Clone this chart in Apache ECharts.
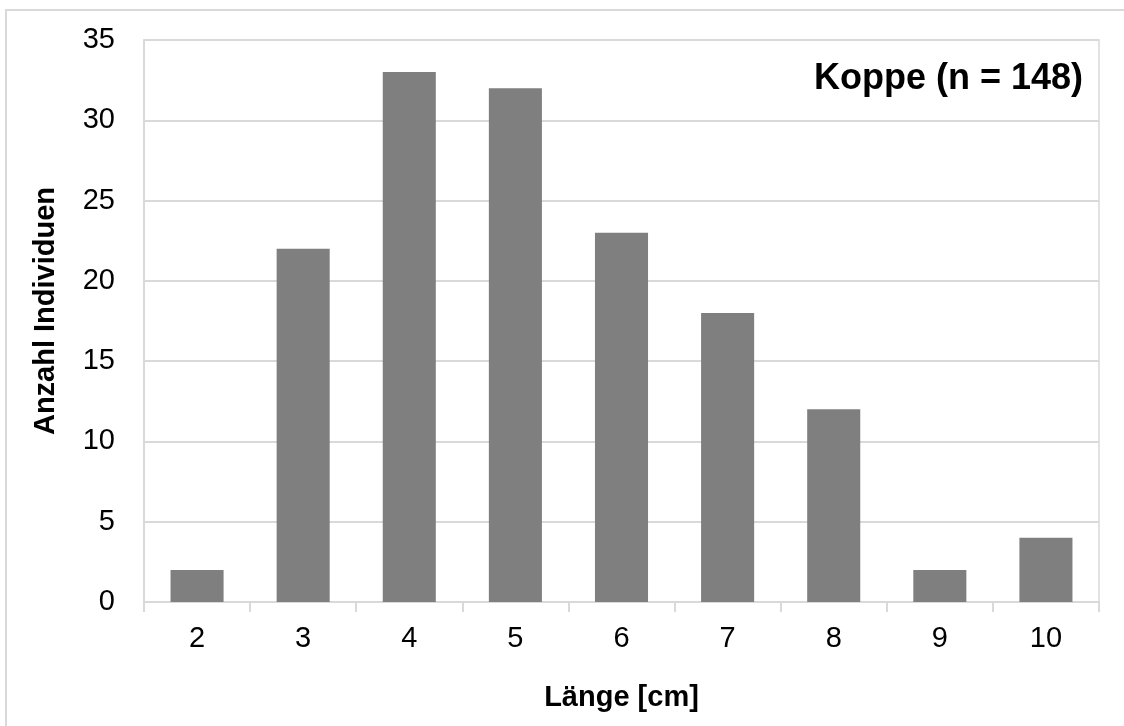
<!DOCTYPE html>
<html>
<head>
<meta charset="utf-8">
<script src="https://cdn.jsdelivr.net/npm/echarts@6/dist/echarts.min.js"></script>
<style>
  html, body { margin: 0; padding: 0; background: #fff; }
  #main { width: 1124px; height: 726px; }
</style>
</head>
<body>
<div id="main"></div>
<script>
// Längenklassen und Anzahl
var laengen = ['2', '3', '4', '5', '6', '7', '8', '9', '10'];
var anzahl = [2, 22, 33, 32, 23, 18, 12, 2, 4];
var titel = 'Koppe (n = 148)';

var myChart = echarts.init(document.getElementById('main'));
var schrift = 'Liberation Sans, Arial, sans-serif';

var option = {
    animation: false,
    backgroundColor: '#fff',
    textStyle: { fontFamily: schrift },
    graphic: [
        {
            // äußerer Rahmen
            type: 'rect',
            shape: { x: 6, y: 10, width: 1130, height: 740 },
            style: { fill: 'none', stroke: '#d9d9d9', lineWidth: 2 }
        },
        {
            type: 'text',
            right: 41,
            top: 61,
            style: {
                text: titel,
                fill: '#000',
                font: 'bold 36px ' + schrift
            }
        }
    ],
    grid: {
        left: 144,
        right: 25,
        top: 40,
        bottom: 124,
        show: true,
        borderColor: '#d9d9d9',
        borderWidth: 1.5
    },
    xAxis: {
        type: 'category',
        data: laengen,
        name: 'Länge [cm]',
        nameLocation: 'middle',
        nameGap: 81,
        nameTextStyle: { fontSize: 29, fontWeight: 'bold', color: '#000' },
        axisLine: { lineStyle: { color: '#d9d9d9', width: 2 } },
        axisTick: { show: true, length: 10, lineStyle: { color: '#d9d9d9', width: 2 } },
        axisLabel: { fontSize: 29, color: '#000', margin: 22 }
    },
    yAxis: {
        type: 'value',
        min: 0,
        max: 35,
        interval: 5,
        name: 'Anzahl Individuen',
        nameLocation: 'middle',
        nameGap: 84,
        nameTextStyle: { fontSize: 29, fontWeight: 'bold', color: '#000', padding: [0, 0, 0, 20] },
        axisLine: { show: true, lineStyle: { color: '#d9d9d9', width: 2 } },
        axisTick: { show: false },
        axisLabel: { fontSize: 29, color: '#000', margin: 29 },
        splitLine: { lineStyle: { color: '#d9d9d9', width: 2 } }
    },
    series: [
        {
            type: 'bar',
            data: anzahl,
            barWidth: '50%',
            itemStyle: { color: '#7f7f7f' }
        }
    ]
};

myChart.setOption(option);
</script>
</body>
</html>
